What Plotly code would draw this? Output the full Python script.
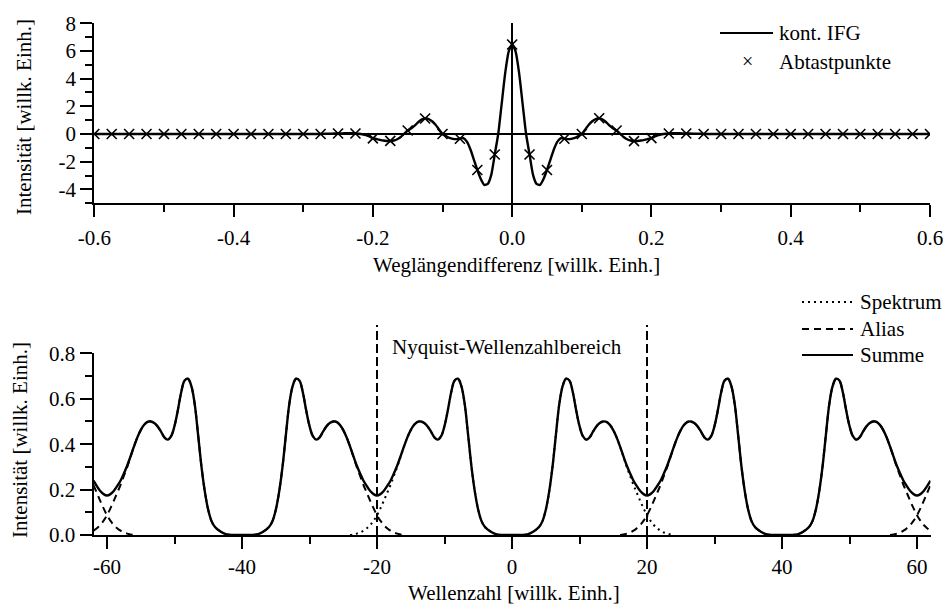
import numpy as np
import plotly.graph_objects as go

# ---------------- data: top panel (interferogram) ----------------
ifg_x_pos = [0, 0.005, 0.01, 0.015, 0.02, 0.025, 0.03, 0.035, 0.04, 0.045, 0.05, 0.055,
             0.06, 0.065, 0.07, 0.075, 0.08, 0.085, 0.09, 0.095, 0.10, 0.105, 0.11, 0.115,
             0.12, 0.125, 0.13, 0.135, 0.14, 0.145, 0.15, 0.155, 0.16, 0.165, 0.17, 0.175,
             0.18, 0.185, 0.19, 0.195, 0.20, 0.205, 0.21, 0.215, 0.22, 0.225, 0.23, 0.24,
             0.25, 0.26, 0.27, 0.28, 0.30, 0.40, 0.50, 0.60]
ifg_y_pos = [6.47, 5.95, 4.4, 2.2, 0.0, -1.48, -2.95, -3.6, -3.68, -3.25, -2.6, -1.85,
             -1.1, -0.55, -0.3, -0.34, -0.37, -0.35, -0.28, -0.14, 0.0, 0.33, 0.67, 0.92,
             1.08, 1.14, 1.05, 0.85, 0.6, 0.4, 0.25, 0.02, -0.22, -0.38, -0.47, -0.51,
             -0.5, -0.47, -0.42, -0.36, -0.3, -0.18, -0.08, -0.02, 0.02, 0.04, 0.05, 0.05,
             0.04, 0.03, 0.015, 0.0, 0.0, 0.0, 0.0, 0.0]

sample_x = [-0.6, -0.575, -0.55, -0.525, -0.5, -0.475, -0.45, -0.425, -0.4, -0.375, -0.35,
            -0.325, -0.3, -0.275, -0.25, -0.225, -0.2, -0.175, -0.15, -0.125, -0.1, -0.075,
            -0.05, -0.025, 0.0, 0.025, 0.05, 0.075, 0.1, 0.125, 0.15, 0.175, 0.2, 0.225,
            0.25, 0.275, 0.3, 0.325, 0.35, 0.375, 0.4, 0.425, 0.45, 0.475, 0.5, 0.525,
            0.55, 0.575, 0.6]
sample_y = [0, 0, 0, 0, 0, 0, 0, 0, 0, 0, 0,
            0, 0, 0, 0.04, 0.04, -0.32, -0.5, 0.25, 1.12, 0.0, -0.34,
            -2.6, -1.48, 6.47, -1.48, -2.6, -0.34, 0.0, 1.14, 0.25, -0.51, -0.3, 0.04,
            0.04, 0, 0, 0, 0, 0, 0, 0, 0, 0, 0, 0,
            0, 0, 0]

top_xticks = [-0.6, -0.4, -0.2, 0.0, 0.2, 0.4, 0.6]
top_xlabels = ["-0.6", "-0.4", "-0.2", "0.0", "0.2", "0.4", "0.6"]
top_xminor = [-0.5, -0.3, -0.1, 0.1, 0.3, 0.5]
top_yticks = [-4, -2, 0, 2, 4, 6, 8]
top_ylabels = ["-4", "-2", "0", "2", "4", "6", "8"]
top_yminor = [-5, -3, -1, 1, 3, 5, 7]

# ---------------- data: bottom panel (spectrum, half profile) ----------------
spec_x_half = [0, 0.5, 1, 1.5, 2, 2.5, 3, 3.5, 4, 4.5, 5, 5.5, 6, 6.5, 7, 7.5, 8, 8.5,
               9, 9.5, 10, 10.5, 11, 11.5, 12, 12.5, 13, 13.5, 14, 14.5, 15, 15.5, 16,
               16.5, 17, 17.5, 18, 18.5, 19, 19.5, 20, 20.5, 21, 21.5, 22, 22.5, 23, 23.5, 24]
spec_y_half = [0, 0, 0, 0, 0.001, 0.005, 0.012, 0.022, 0.035, 0.06, 0.11, 0.19, 0.30,
               0.44, 0.575, 0.655, 0.688, 0.68, 0.63, 0.55, 0.48, 0.435, 0.42, 0.43,
               0.455, 0.478, 0.493, 0.50, 0.498, 0.485, 0.462, 0.43, 0.39, 0.345, 0.30,
               0.26, 0.22, 0.185, 0.15, 0.117, 0.087, 0.063, 0.044, 0.03, 0.019, 0.011,
               0.006, 0.002, 0]
alias_period = 40          # sampling wavenumber
nyquist = 20               # Nyquist wavenumber
nyq_line_top = 0.925       # top of Nyquist marker lines (data units)

bot_xticks = [-60, -40, -20, 0, 20, 40, 60]
bot_xlabels = ["-60", "-40", "-20", "0", "20", "40", "60"]
bot_xminor = [-50, -30, -10, 10, 30, 50]
bot_yticks = [0, 0.2, 0.4, 0.6, 0.8]
bot_ylabels = ["0.0", "0.2", "0.4", "0.6", "0.8"]
bot_yminor = [0.1, 0.3, 0.5, 0.7]

# ---------------- derived curves ----------------
ifg_x = [-v for v in reversed(ifg_x_pos[1:])] + ifg_x_pos
ifg_y = list(reversed(ifg_y_pos[1:])) + ifg_y_pos

full_x = np.array([-v for v in reversed(spec_x_half[1:])] + spec_x_half)
full_y = np.array(list(reversed(spec_y_half[1:])) + spec_y_half)
half_w = spec_x_half[-1]

x_grid = np.arange(-124, 125) * 0.5
shifts = [-2 * alias_period, -alias_period, 0, alias_period, 2 * alias_period]
copies = {}
for s in shifts:
    copies[s] = np.interp(x_grid - s, full_x, full_y, left=0.0, right=0.0)
summe = sum(copies.values())

spec_mask = np.abs(x_grid) <= half_w
alias_x, alias_y = [], []
for s in shifts:
    if s == 0:
        continue
    m = np.abs(x_grid - s) <= half_w
    if m.any():
        alias_x += list(x_grid[m]) + [None]
        alias_y += list(copies[s][m]) + [None]

# ---------------- figure ----------------
FONT = "Liberation Serif"
FS = 21
W, H = 952, 611
fig = go.Figure()

fig.add_trace(go.Scatter(x=ifg_x, y=ifg_y, mode="lines", name="kont. IFG",
                         line=dict(color="black", width=2.4, shape="spline", smoothing=0.6),
                         xaxis="x", yaxis="y", showlegend=False))
fig.add_trace(go.Scatter(x=sample_x, y=sample_y, mode="markers", name="Abtastpunkte",
                         marker=dict(symbol="x-thin", size=10, color="black",
                                     line=dict(width=1.6, color="black")),
                         xaxis="x", yaxis="y", showlegend=False))

fig.add_trace(go.Scatter(x=x_grid[spec_mask], y=copies[0][spec_mask], mode="lines",
                         name="Spektrum",
                         line=dict(color="black", width=2, dash="2px,4px", shape="spline"),
                         xaxis="x2", yaxis="y2", showlegend=False))
fig.add_trace(go.Scatter(x=alias_x, y=alias_y, mode="lines", name="Alias",
                         line=dict(color="black", width=2, dash="7px,5px", shape="spline"),
                         xaxis="x2", yaxis="y2", showlegend=False, connectgaps=False))
fig.add_trace(go.Scatter(x=x_grid, y=summe, mode="lines", name="Summe",
                         line=dict(color="black", width=2.4, shape="spline"),
                         xaxis="x2", yaxis="y2", showlegend=False))

axis_common = dict(showgrid=False, showline=True, linewidth=2, linecolor="black",
                   ticks="outside", ticklen=12, tickwidth=2, tickcolor="black",
                   automargin=False,
                   tickfont=dict(family=FONT, size=FS, color="black"))
minor_common = dict(ticks="outside", ticklen=7, tickwidth=2, tickcolor="black", showgrid=False)

fig.update_layout(
    width=W, height=H, margin=dict(l=0, r=0, t=0, b=0, autoexpand=False),
    paper_bgcolor="white", plot_bgcolor="white", showlegend=False,
    font=dict(family=FONT, size=FS, color="black"),
    xaxis=dict(domain=[94.3 / W, 930 / W], range=[-0.6, 0.6], anchor="y",
               tickvals=top_xticks, ticktext=top_xlabels, ticklabelstandoff=3,
               zeroline=True, zerolinewidth=2, zerolinecolor="black",
               minor=dict(tickvals=top_xminor, **minor_common), **axis_common),
    yaxis=dict(domain=[1 - 203.2 / H, 1 - 23.3 / H], range=[-5, 8], anchor="x",
               tickvals=top_yticks, ticktext=top_ylabels,
               zeroline=True, zerolinewidth=2, zerolinecolor="black",
               minor=dict(tickvals=top_yminor, **minor_common), **axis_common),
    xaxis2=dict(domain=[93.5 / W, 930.5 / W], range=[-62, 62], anchor="y2",
                tickvals=bot_xticks, ticktext=bot_xlabels, ticklabelstandoff=0,
                zeroline=False,
                minor=dict(tickvals=bot_xminor, **minor_common), **axis_common),
    yaxis2=dict(domain=[1 - 535 / H, 1 - 353.3 / H], range=[0, 0.8], anchor="x2",
                tickvals=bot_yticks, ticktext=bot_ylabels, zeroline=False,
                minor=dict(tickvals=bot_yminor, **minor_common), **axis_common),
)

# Nyquist boundary lines
for xv in (-nyquist, nyquist):
    fig.add_shape(type="line", xref="x2", yref="y2 domain", x0=xv, x1=xv,
                  y0=0, y1=nyq_line_top / 0.8,
                  line=dict(color="black", width=2, dash="9px,4px"))

def txt(x, y, s, xref="paper", yref="paper", xanchor="left", angle=0, size=FS):
    fig.add_annotation(x=x, y=y, xref=xref, yref=yref, text=s, showarrow=False,
                       xanchor=xanchor, yanchor="middle", textangle=angle,
                       font=dict(family=FONT, size=size, color="black"))

txt(-nyquist + 1.9, 0.826 / 0.8, "Nyquist-Wellenzahlbereich", xref="x2", yref="y2 domain")
txt(516 / W, 1 - 265 / H, "Weglängendifferenz [willk. Einh.]", xanchor="center")
txt(514 / W, 1 - 593 / H, "Wellenzahl [willk. Einh.]", xanchor="center")
txt(24 / W, 1 - 117 / H, "Intensität [willk. Einh.]", xanchor="center", angle=-90)
txt(20 / W, 1 - 440 / H, "Intensität [willk. Einh.]", xanchor="center", angle=-90)

# ---------------- legends (drawn as glyph + label) ----------------
def leg_line(x0, x1, y, dash):
    fig.add_shape(type="line", xref="paper", yref="paper", x0=x0 / W, x1=x1 / W,
                  y0=1 - y / H, y1=1 - y / H,
                  line=dict(color="black", width=2, dash=dash))

leg_line(720, 773, 33, "solid")
txt(777 / W, 1 - 33 / H, "kont. IFG")
txt(747 / W, 1 - 61 / H, "×", xanchor="center", size=20)
txt(777 / W, 1 - 62 / H, "Abtastpunkte")

leg_line(802, 853, 302, "2px,4px")
txt(858 / W, 1 - 302 / H, "Spektrum")
leg_line(802, 853, 329, "7px,5px")
txt(858 / W, 1 - 329 / H, "Alias")
leg_line(802, 853, 355, "solid")
txt(858 / W, 1 - 355 / H, "Summe")

fig.write_html("out.html")
